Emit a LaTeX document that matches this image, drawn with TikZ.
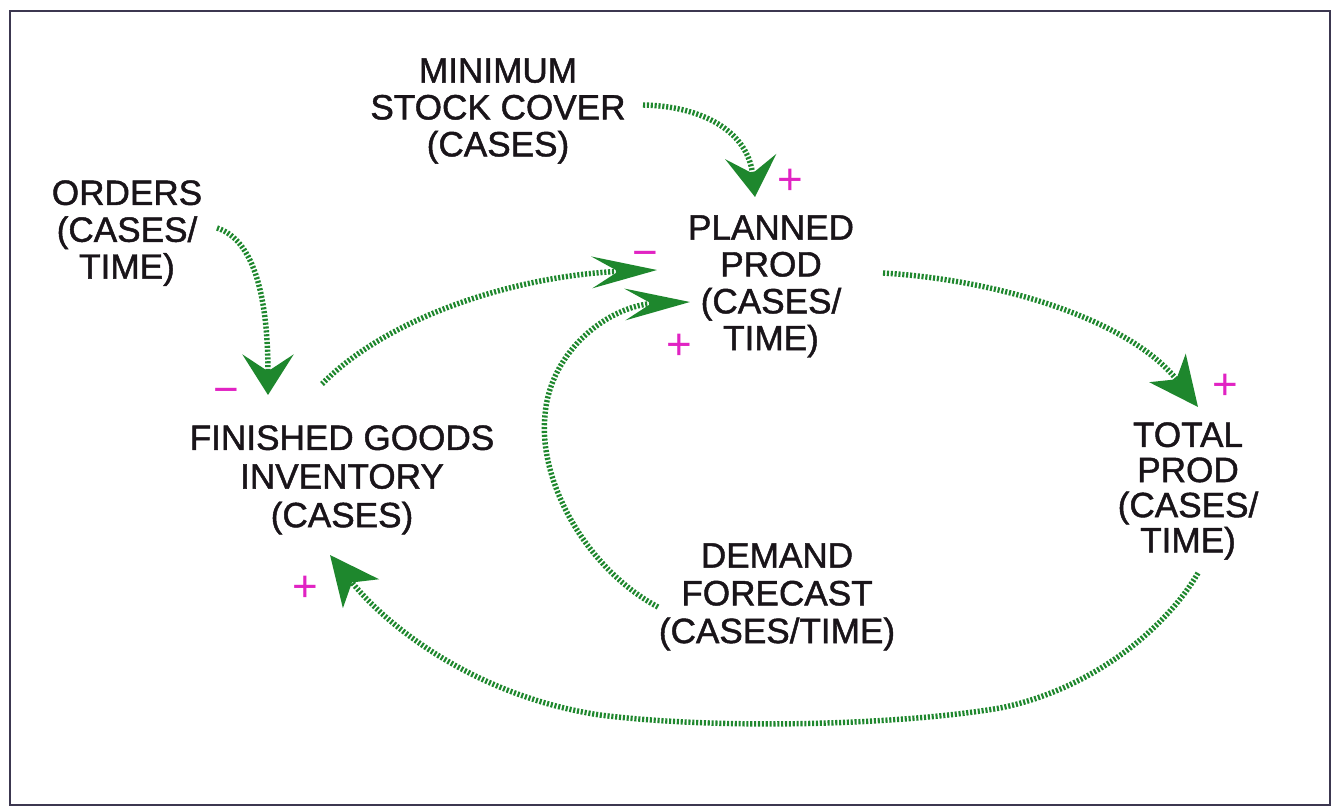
\documentclass[tikz,border=0pt]{standalone}
\usepackage{fontspec}
\setmainfont{Liberation Sans}[BoldFont={Liberation Sans},BoldFeatures={FakeBold=1.3}]
\usetikzlibrary{arrows.meta}
\definecolor{lgreen}{RGB}{30,135,45}
\definecolor{sgn}{RGB}{225,35,195}
\definecolor{txt}{RGB}{25,20,25}
\definecolor{framec}{RGB}{60,55,80}
\begin{document}
\begin{tikzpicture}[x=0.02cm,y=-0.02cm,
  lbl/.style={anchor=north,inner sep=0pt,align=center,text=txt,font=\fontsize{20}{21}\selectfont\bfseries},
  sgnp/.style={inner sep=0pt,text=sgn,font=\fontsize{25}{25}\selectfont},
  link/.style={draw=lgreen,line width=3.1pt,dash pattern=on 1.2pt off 1pt},
  tipv/.style={-{Stealth[length=23pt,width=29pt,inset=9.5pt]}},
  tiph/.style={-{Stealth[length=37pt,width=18pt,inset=15pt]}},
  tipd/.style={-{Stealth[length=28pt,width=26pt,inset=8pt]}},
]
\useasboundingbox (0,0) rectangle (1337,807);
\fill[white] (0,0) rectangle (1337,807);
\draw[framec,line width=1.1pt] (10,11) rectangle (1330,805);

% labels
\node[lbl] (min) at (498,58) {MINIMUM\\STOCK COVER\\(CASES)};
\node[lbl] (ord) at (127,180) {ORDERS\\(CASES/\\TIME)};
\node[lbl] (pp) at (771,215) {PLANNED\\PROD\\(CASES/\\TIME)};
\node[lbl,font=\fontsize{20}{22}\selectfont\bfseries] (fg) at (342,425) {FINISHED GOODS\\INVENTORY\\(CASES)};
\node[lbl,font=\fontsize{20}{20}\selectfont\bfseries] (tp) at (1188,422) {TOTAL\\PROD\\(CASES/\\TIME)};
\node[lbl,font=\fontsize{20}{21.5}\selectfont\bfseries] (df) at (777,543) {DEMAND\\FORECAST\\(CASES/TIME)};

% polarity signs
\node[sgnp] (s1) at (790,182) {+};
\node[sgnp] (s2) at (645,259) {−};
\node[sgnp] (s3) at (679,347) {+};
\node[sgnp] (s4) at (226,396) {−};
\node[sgnp] (s5) at (1225,387) {+};
\node[sgnp] (s6) at (305,589) {+};

% connector end points
\coordinate (minS) at (643,105);
\coordinate (minE) at (755,197);
\coordinate (ordS) at (217,228);
\coordinate (ordE) at (268,395);
\coordinate (fgS) at (322,384);
\coordinate (ppE1) at (657,270);
\coordinate (dfS) at (658,607);
\coordinate (ppE2) at (690,302);
\coordinate (ppS) at (883,273);
\coordinate (tpE) at (1198,407);
\coordinate (tpS) at (1198,573);
\coordinate (fgE) at (330,555);

% connectors
\draw[link,tipv] (minS) .. controls (700,106) and (748,130) .. (minE);
\draw[link,tipv] (ordS) .. controls (255,240) and (268,300) .. (ordE);
\draw[link,tiph] (fgS) .. controls (390,315) and (520,275) .. (ppE1);
\draw[link,tiph] (dfS) .. controls (585,568) and (538,480) .. (545,415)
                 .. controls (550,350) and (610,305) .. (ppE2);
\draw[link,tipd] (ppS) .. controls (1000,280) and (1130,320) .. (tpE);
\draw[link,tipd] (tpS) .. controls (1165,630) and (1090,690) .. (1000,708)
                 .. controls (900,725) and (720,730) .. (600,715)
                 .. controls (480,697) and (390,630) .. (fgE);
\end{tikzpicture}
\end{document}
